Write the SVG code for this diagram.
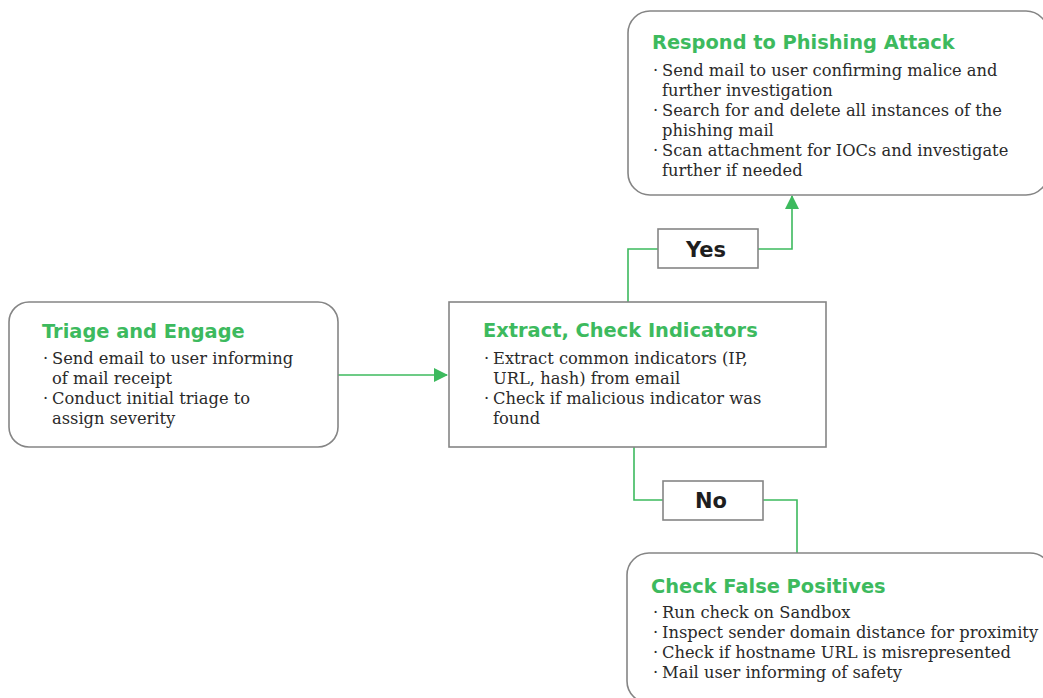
<svg xmlns="http://www.w3.org/2000/svg" width="1043" height="698" viewBox="0 0 1043 698">
<defs>
<style>
.box{fill:#fff;stroke:#858585;stroke-width:1.6}
.title{font-family:"DejaVu Sans",Inter,sans-serif;font-weight:700;font-size:19.4px;fill:#3dba5e}
.body{font-family:"DejaVu Serif","Liberation Serif",serif;font-size:16.3px;fill:#2a2a2a}
.lbl{font-family:"DejaVu Sans",Inter,sans-serif;font-weight:700;font-size:21px;fill:#1e1e1e;text-anchor:middle}
.conn{fill:none;stroke:#3dba5e;stroke-width:1.6}
</style>
<marker id="arrBig" markerWidth="16" markerHeight="14" refX="13" refY="7" orient="auto" markerUnits="userSpaceOnUse" viewBox="0 0 14 14">
<path d="M0,0 L14,7 L0,14 Z" fill="#3dba5e"/>
</marker>
</defs>
<rect width="1043" height="698" fill="#fff"/>
<g id="connectors">
<path class="conn" d="M338,375 H447" marker-end="url(#arrBig)"/>
<path class="conn" d="M628,302 V249 H658"/>
<path class="conn" d="M758,249 H792 V196" marker-end="url(#arrBig)"/>
<path class="conn" d="M634,447 V500 H663"/>
<path class="conn" d="M763,500 H797 V553"/>
</g>
<g id="respond">
<rect class="box" x="628" y="11" width="420" height="184" rx="22"/>
<text class="title" x="652" y="49">Respond to Phishing Attack</text>
<text class="body"><tspan x="653" y="76">·</tspan><tspan x="662" y="76">Send mail to user confirming malice and</tspan><tspan x="662" y="96">further investigation</tspan><tspan x="653" y="116">·</tspan><tspan x="662" y="116">Search for and delete all instances of the</tspan><tspan x="662" y="136">phishing mail</tspan><tspan x="653" y="156">·</tspan><tspan x="662" y="156">Scan attachment for IOCs and investigate</tspan><tspan x="662" y="176">further if needed</tspan></text>
</g>
<g id="triage">
<rect class="box" x="9" y="302" width="329" height="145" rx="20"/>
<text class="title" x="42" y="338">Triage and Engage</text>
<text class="body"><tspan x="43" y="364">·</tspan><tspan x="52" y="364">Send email to user informing</tspan><tspan x="52" y="384">of mail receipt</tspan><tspan x="43" y="404">·</tspan><tspan x="52" y="404">Conduct initial triage to</tspan><tspan x="52" y="424">assign severity</tspan></text>
</g>
<g id="extract">
<rect class="box" x="449" y="302" width="377" height="145"/>
<text class="title" x="483" y="337">Extract, Check Indicators</text>
<text class="body"><tspan x="484" y="364">·</tspan><tspan x="493" y="364">Extract common indicators (IP,</tspan><tspan x="493" y="384">URL, hash) from email</tspan><tspan x="484" y="404">·</tspan><tspan x="493" y="404">Check if malicious indicator was</tspan><tspan x="493" y="424">found</tspan></text>
</g>
<g id="yes">
<rect class="box" x="658" y="229" width="100" height="39"/>
<text class="lbl" x="706" y="257">Yes</text>
</g>
<g id="no">
<rect class="box" x="663" y="481" width="100" height="39"/>
<text class="lbl" x="711" y="508">No</text>
</g>
<g id="falsepos">
<rect class="box" x="627" y="553" width="425" height="150" rx="22"/>
<text class="title" x="651" y="593">Check False Positives</text>
<text class="body"><tspan x="653" y="618">·</tspan><tspan x="662" y="618">Run check on Sandbox</tspan><tspan x="653" y="638">·</tspan><tspan x="662" y="638">Inspect sender domain distance for proximity</tspan><tspan x="653" y="658">·</tspan><tspan x="662" y="658">Check if hostname URL is misrepresented</tspan><tspan x="653" y="678">·</tspan><tspan x="662" y="678">Mail user informing of safety</tspan></text>
</g>
</svg>
